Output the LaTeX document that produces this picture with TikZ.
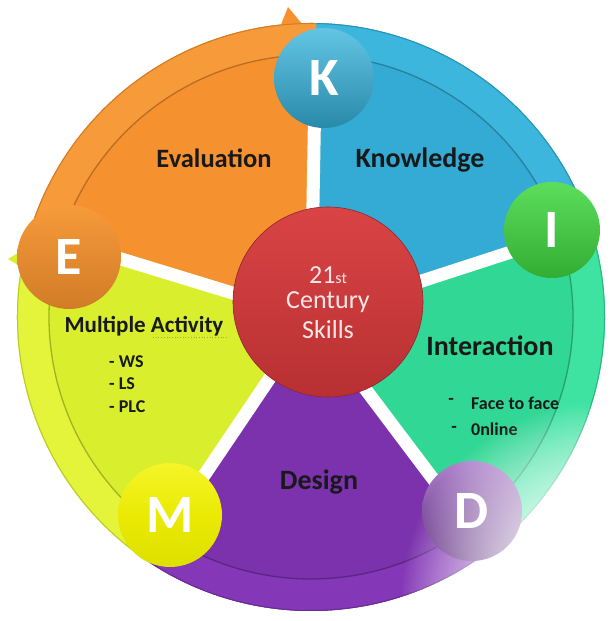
\documentclass[tikz,border=0pt]{standalone}
\usepackage{fontspec}
\setmainfont{Carlito}
\usetikzlibrary{calc,fadings}
\tikzfading[name=whiteblob, inner color=transparent!0, outer color=transparent!100]
\definecolor{orangeA}{HTML}{F5922F}
\definecolor{orangeB}{HTML}{F79A3A}
\definecolor{blueA}{HTML}{33ABD4}
\definecolor{blueB}{HTML}{3CB6DD}
\definecolor{greenA}{HTML}{31D794}
\definecolor{greenB}{HTML}{3EE3A2}
\definecolor{purpleA}{HTML}{7B32AC}
\definecolor{purpleB}{HTML}{8437B6}
\definecolor{yellowA}{HTML}{D9EE2C}
\definecolor{yellowB}{HTML}{E3F43A}
\definecolor{redA}{HTML}{D94446}
\definecolor{redB}{HTML}{B83032}
\definecolor{txtpink}{HTML}{FCE6E6}
\definecolor{greenI}{HTML}{3FD83F}
\newcommand\pieSector[4]{%
  \fill[#3] (O) -- ($(O)+(#1:294)$) arc[start angle=#1,end angle=#2,radius=294] -- cycle;
  \fill[#4] ($(O)+(#1:294)$) arc[start angle=#1,end angle=#2,radius=294] -- ($(O)+(#2:262)$) arc[start angle=#2,end angle=#1,radius=262] -- cycle;
  \draw[#3!75!black, line width=1.3] ($(O)+(#1:262)$) arc[start angle=#1,end angle=#2,radius=262];
  \draw[#3!85!black, line width=1] ($(O)+(#1:293.5)$) arc[start angle=#1,end angle=#2,radius=293.5];
}
\tikzset{
  seglabel/.style={font=\fontsize{28}{32}\selectfont\bfseries, text=black!90},
  smalllabel/.style={font=\fontsize{18}{21}\selectfont\bfseries, text=black!90, inner sep=0pt},
  centretext/.style={font=\fontsize{26}{30}\selectfont, text=txtpink},
  letter/.style={font=\fontsize{54}{60}\selectfont\bfseries, text=white},
  badge/.style={circle, inner sep=0pt}
}
\begin{document}
\begin{tikzpicture}[x=1pt,y=1pt]
\useasboundingbox (0,0) rectangle (610,621);
\fill[white] (0,0) rectangle (610,621);
\coordinate (O) at (311,304);
% arrowhead wings
\fill[orangeA] (280,594) -- (288,614) -- (308,590) -- cycle;
\fill[yellowA] (28,374) -- (8,362) -- (28,350) -- cycle;
% sectors
\pieSector{18}{89}{blueA}{blueB}
\pieSector{89}{163}{orangeA}{orangeB}
\pieSector{163}{236}{yellowA}{yellowB}
\pieSector{236}{307}{purpleA}{purpleB}
\pieSector{-53}{18}{greenA}{greenB}
% white gaps
\foreach \a in {89,18,-53,-124,163}
  \draw[white, line width=13] (O) -- ($(O)+(\a:285)$);
% centre
\node[badge, minimum size=190, top color=redA, bottom color=redB, draw=redB!80!black, line width=0.6] (C) at (328,319) {};
\node[centretext] (c1) at (328,346) {21{\fontsize{16}{18}\selectfont st}};
\node[centretext] (c2) at (328,319) {Century};
\node[centretext] (c3) at (328,291) {Skills};
% labels
\node[seglabel, font=\fontsize{26.5}{30}\selectfont\bfseries] (ev) at (214,463) {Evaluation};
\node[seglabel] (kn) at (420,461) {Knowledge};
\node[seglabel] (in) at (490,275) {Interaction};
\node[seglabel] (de) at (319,139) {Design};
\node[font=\fontsize{23}{26}\selectfont\bfseries, text=black!90] (ma) at (144,295) {Multiple Activity};
\draw[olive!70, line width=0.7, dotted] (153,284) -- (226,284);
\node[smalllabel, anchor=west] (ws) at (109,259) {- WS};
\node[smalllabel, anchor=west] (ls) at (109,237) {- LS};
\node[smalllabel, anchor=west] (plc) at (109,214) {- PLC};
\node[smalllabel] (d1) at (451,220) {-};
\node[smalllabel, anchor=west] (ff) at (471,218) {Face to face};
\node[smalllabel] (d2) at (454,192) {-};
\node[smalllabel, anchor=west] (on) at (471,192) {0nline};
% badges
\node[badge, minimum size=100, top color=blueB!80!white, bottom color=blueA!80!black] (K) at (324,543) {};
\node[letter] at (K) {K};
\node[badge, minimum size=96, top color=greenI!85!white, bottom color=greenI!80!black] (I) at (552,391) {};
\node[letter] at (I) {I};
\node[badge, minimum size=100, top color=purpleA!55!white!90!purpleA, bottom color=purpleA!70!black] (D) at (472,110) {};
\node[letter] at (D) {D};
\node[badge, minimum size=104, top color=yellow!90!olive!80!white, bottom color=yellow!75!olive] (M) at (170,106) {};
\node[letter] at (M) {M};
\node[badge, minimum size=104, top color=orangeB, bottom color=orangeA!85!black] (E) at (69,364) {};
\node[letter] at (E) {E};
% bottom-right fade
\fill[white, path fading=whiteblob] (600,20) circle (200);
\fill[white, path fading=whiteblob] (600,20) circle (200);
\end{tikzpicture}
\end{document}
